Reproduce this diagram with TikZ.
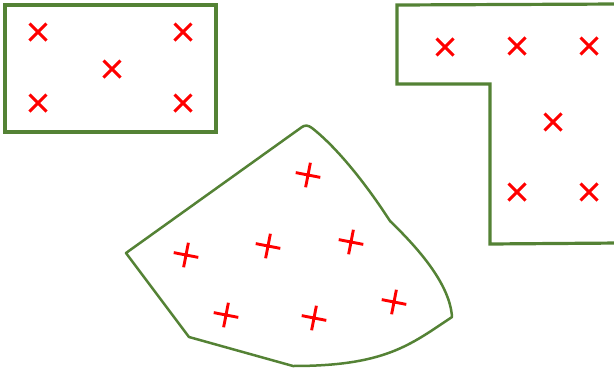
\documentclass[tikz,border=0pt]{standalone}
\definecolor{frame}{RGB}{84,130,53}
\definecolor{mark}{RGB}{255,0,0}
\tikzset{
  frameline/.style={draw=frame, line width=3.2pt, line join=miter},
  curveline/.style={draw=frame, line width=2.5pt, line join=round},
  markline/.style={draw=mark, line width=2.9pt},
  xmk/.pic={\draw[markline] (-8.5,-8.5) -- (8.5,8.5) (-8.5,8.5) -- (8.5,-8.5);},
  pmk/.pic={\draw[markline,rotate=-11] (-12.5,0) -- (12.5,0) (0,-12.5) -- (0,12.5);}
}
\begin{document}
\begin{tikzpicture}[x=1pt,y=-1pt]
\useasboundingbox (0,0) rectangle (614,370);
\clip (0,0) rectangle (614,370);
% rectangle
\draw[frameline] (5,5) rectangle (216,132);
\foreach \p in {(38,32),(183,32),(112,69),(38,103),(183,103)} \pic at \p {xmk};
% T shape
\draw[frameline] (620,4) -- (397,5) -- (397,84) -- (490,84) -- (490,244) -- (620,243);
\foreach \p in {(445,47),(517,46),(589,46),(553,122),(517,192),(589,192)} \pic at \p {xmk};
% curved polygon
\draw[curveline] (126,253) -- (302,127) .. controls (305,125) and (308,125) .. (312,128)
  .. controls (340,150) and (370,190) .. (390,221)
  .. controls (420,250) and (450,285) .. (452,317)
  .. controls (410,345) and (385,366) .. (293,366)
  -- (189,337) -- cycle;
\foreach \p in {(308,175),(268,246),(351,242),(186,255),(226,315),(314,318),(394,302)} \pic at \p {pmk};
\end{tikzpicture}
\end{document}
